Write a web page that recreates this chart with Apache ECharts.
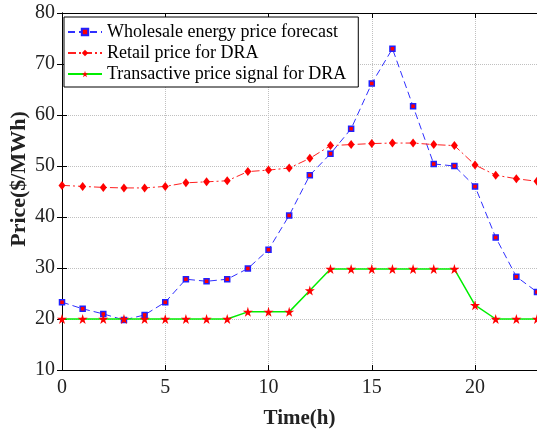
<!DOCTYPE html>
<html>
<head>
<meta charset="utf-8">
<script src="https://cdn.jsdelivr.net/npm/echarts@6/dist/echarts.min.js"></script>
<style>
  html, body { margin: 0; padding: 0; background: #fff; }
  #main { width: 537px; height: 434px; }
</style>
</head>
<body>
<div id="main"></div>
<script>
var hours = [0, 1, 2, 3, 4, 5, 6, 7, 8, 9, 10, 11, 12, 13, 14, 15, 16, 17, 18, 19, 20, 21, 22, 23];
var wholesale = [23.3, 22.0, 21.0, 19.8, 20.8, 23.3, 27.8, 27.4, 27.8, 29.9, 33.6, 40.3,
                 48.2, 52.4, 57.3, 66.2, 73.0, 61.7, 50.4, 50.0, 46.0, 36.0, 28.3, 25.3];
var retail = [46.2, 46.0, 45.8, 45.7, 45.7, 46.0, 46.7, 46.9, 47.1, 48.9, 49.2, 49.6,
              51.5, 54.0, 54.2, 54.4, 54.5, 54.5, 54.2, 54.0, 50.2, 48.2, 47.5, 47.0];
var transactive = [20, 20, 20, 20, 20, 20, 20, 20, 20, 21.4, 21.4, 21.4,
                   25.6, 29.8, 29.8, 29.8, 29.8, 29.8, 29.8, 29.8, 22.7, 20, 20, 20];
var seriesNames = ['Wholesale energy price forecast', 'Retail price for DRA', 'Transactive price signal for DRA'];

function pairs(vals) {
    return hours.map(function (h, i) { return [h, vals[i]]; });
}

var font = 'Liberation Serif';
var star = 'path://M50,0 L61,35 L98,35 L68,57 L79,91 L50,70 L21,91 L32,57 L2,35 L39,35 Z';

var myChart = echarts.init(document.getElementById('main'));

var frameAxis = {
    axisLine: { show: true, lineStyle: { color: '#000', width: 1 } },
    axisTick: { show: true, inside: true, length: 5, lineStyle: { color: '#000' } },
    axisLabel: { show: false },
    splitLine: { show: false }
};

option = {
    backgroundColor: '#fff',
    animation: false,
    textStyle: { fontFamily: font },
    grid: { left: 62, right: -3, top: 13, bottom: 60 },
    legend: {
        orient: 'vertical',
        left: 64,
        top: 17,
        data: seriesNames,
        itemWidth: 34,
        itemHeight: 8,
        itemGap: 3,
        padding: [6, 12, 4, 3],
        backgroundColor: '#fff',
        borderColor: '#000',
        borderWidth: 1,
        textStyle: { fontFamily: font, fontSize: 18, color: '#000' }
    },
    graphic: [{
        type: 'text',
        x: 19,
        y: 179,
        rotation: Math.PI / 2,
        style: {
            text: 'Price($/MWh)',
            font: 'bold 22px "Liberation Serif"',
            fill: '#222',
            align: 'center',
            verticalAlign: 'middle'
        }
    }],
    xAxis: [{
        type: 'value',
        min: 0,
        max: 23,
        interval: 5,
        name: 'Time(h)',
        nameLocation: 'middle',
        nameGap: 38,
        nameTextStyle: { fontFamily: font, fontSize: 21, fontWeight: 'bold', color: '#222' },
        axisLine: { show: true, lineStyle: { color: '#000', width: 1 } },
        axisTick: { inside: true, length: 5, lineStyle: { color: '#000' } },
        axisLabel: { fontFamily: font, fontSize: 20, color: '#222', margin: 8, showMaxLabel: false },
        splitLine: { show: true, lineStyle: { color: '#c0c0c0', type: 'dotted', width: 1 } }
    }, Object.assign({ type: 'value', position: 'top', min: 0, max: 23, interval: 5 }, frameAxis)],
    yAxis: [{
        type: 'value',
        min: 10,
        max: 80,
        interval: 10,
        axisLine: { show: true, lineStyle: { color: '#000', width: 1 } },
        axisTick: { show: true, inside: true, length: 5, lineStyle: { color: '#000' } },
        axisLabel: { fontFamily: font, fontSize: 20, color: '#222', margin: 7 },
        splitLine: { show: true, lineStyle: { color: '#c0c0c0', type: 'dotted', width: 1 } }
    }, Object.assign({ type: 'value', position: 'right', min: 10, max: 80, interval: 10 }, frameAxis)],
    series: [{
        name: seriesNames[0],
        type: 'line',
        data: pairs(wholesale),
        symbol: 'rect',
        symbolSize: 5,
        itemStyle: { color: '#ff0000', borderColor: '#2020ff', borderWidth: 1.5 },
        lineStyle: { color: '#3030ff', width: 1, type: [7, 4] }
    }, {
        name: seriesNames[1],
        type: 'line',
        data: pairs(retail),
        symbol: 'diamond',
        symbolSize: [7, 9],
        itemStyle: { color: '#ff0000', borderWidth: 0 },
        lineStyle: { color: '#ff2020', width: 1, type: [8, 3, 2, 3] }
    }, {
        name: seriesNames[2],
        type: 'line',
        data: pairs(transactive),
        symbol: star,
        symbolSize: 10,
        itemStyle: { color: '#ff0000', borderWidth: 0 },
        lineStyle: { color: '#00ee00', width: 1.5, type: 'solid' }
    }]
};
myChart.setOption(option);
</script>
</body>
</html>
